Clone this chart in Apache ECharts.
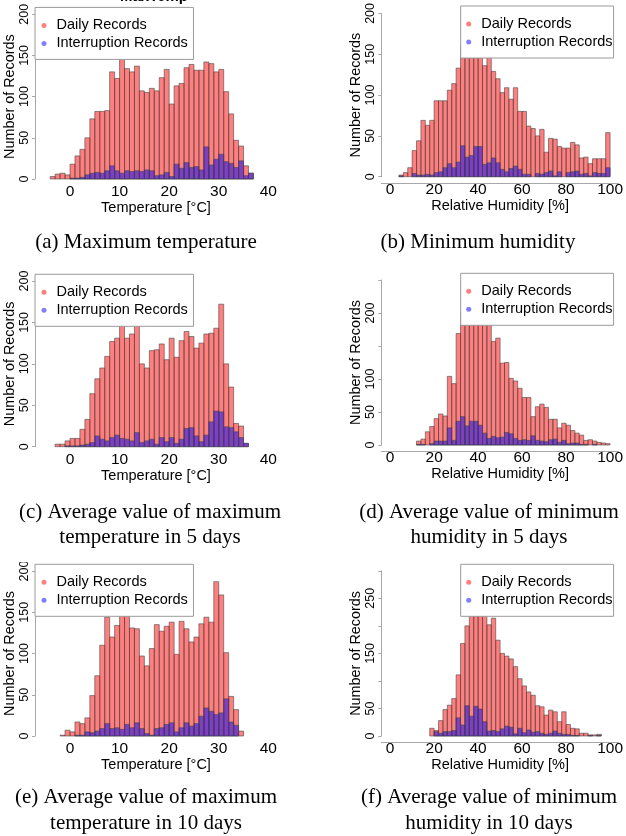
<!DOCTYPE html>
<html><head><meta charset="utf-8">
<script src="https://cdn.jsdelivr.net/npm/echarts@6/dist/echarts.min.js"></script>
<style>html,body{margin:0;padding:0;background:#fff}#c{width:626px;height:836px}</style>
</head><body><div id="c"></div>
<script>
// ---------- data ----------
const seriesNames = ['Daily Records', 'Interruption Records'];
const tempTicks = [0, 10, 20, 30, 40];
const humTicks = [0, 20, 40, 60, 80, 100];

// (a) Maximum temperature, 1 °C bins starting at -4
const aBinStart = -4, aBinWidth = 1;
const aDaily = [3,6,7,5,18,28,36,50,73,82,82,83,130,122,146,134,130,137,107,105,110,107,123,133,91,113,116,135,139,132,132,142,140,130,133,106,79,47,40,16,7];
const aIntr  = [0,0,0,0,1,1,2,5,7,8,7,10,16,10,7,10,9,10,9,11,10,4,5,8,3,18,13,20,14,15,11,39,17,24,30,21,19,14,22,4,7];

// (b) Minimum humidity, 2 % bins starting at 4
const bBinStart = 4, bBinWidth = 2;
const bDaily = [2,5,11,32,44,69,63,69,93,93,93,106,114,133,160,168,158,172,150,136,146,129,120,103,109,95,109,80,80,62,59,50,58,30,47,46,37,35,35,42,39,23,24,16,22,22,22,54];
const bIntr  = [1,0,0,4,2,2,3,2,5,6,11,16,11,18,38,24,26,37,37,15,17,23,17,9,6,10,13,9,3,3,0,4,3,5,7,1,6,0,5,6,7,3,4,1,5,4,4,11];

// (c) 5-day average of maximum temperature, 1 °C bins starting at -3
const cBinStart = -3, cBinWidth = 1;
const cDaily = [3,3,7,10,10,21,33,64,82,95,109,127,131,146,131,136,150,100,95,116,117,124,105,131,108,128,139,133,119,125,136,137,143,172,100,72,28,25,4];
const cIntr  = [0,0,1,1,1,2,3,5,13,9,7,11,14,10,9,7,17,5,7,9,3,11,6,11,4,9,22,23,13,6,14,30,43,42,24,23,18,11,4];

// (d) 5-day average of minimum humidity, 2 % bins starting at 12
const dBinStart = 12, dBinWidth = 2;
const dDaily = [6,9,20,28,40,47,44,104,93,169,200,215,225,230,220,205,185,157,162,124,125,101,97,86,72,72,43,58,62,57,39,39,26,33,30,22,18,15,7,8,6,4,3,2];
const dIntr  = [1,1,0,2,6,6,6,26,7,36,43,29,36,36,30,18,10,13,11,12,19,17,10,7,8,7,14,7,6,5,8,9,4,7,2,3,3,1,1,0,1,0,0,0];

// (e) 10-day average of maximum temperature, 1 °C bins starting at -2
const eBinStart = -2, eBinWidth = 1;
const eDaily = [1,7,5,17,15,22,49,73,110,144,120,134,148,146,131,130,97,85,106,135,127,133,138,99,139,130,114,120,136,144,138,187,171,101,48,32,6];
const eIntr  = [0,0,0,1,1,5,4,6,9,15,9,10,8,14,10,16,9,3,1,9,10,14,16,5,10,16,12,15,24,34,30,26,28,45,17,13,0];

// (f) 10-day average of minimum humidity, 2 % bins starting at 18
const fBinStart = 18, fBinWidth = 2;
const fDaily = [14,10,28,48,56,68,111,168,200,225,235,230,222,202,214,174,150,145,140,126,104,91,80,74,55,53,38,47,44,26,44,21,14,13,5,5,2,2,3];
const fIntr  = [0,8,5,8,8,10,33,20,55,36,54,49,26,9,10,8,13,18,16,4,14,6,11,7,8,5,3,5,9,5,3,3,1,1,0,0,1,0,1];

const captions = [
  ['(a) Maximum temperature'],
  ['(b) Minimum humidity'],
  ['(c) Average value of maximum', 'temperature in 5 days'],
  ['(d) Average value of minimum', 'humidity in 5 days'],
  ['(e) Average value of maximum', 'temperature in 10 days'],
  ['(f) Average value of minimum', 'humidity in 10 days']
];
const xNames = ['Temperature [°C]', 'Relative Humidity [%]'];
const yName = 'Number of Records';

// ---------- layout / style ----------
const SANS = 'Liberation Sans, Arial, sans-serif';
const SERIF = 'Liberation Serif, Times New Roman, serif';
const RED = 'rgba(255,0,0,0.5)', BLUE = 'rgba(0,0,255,0.5)';
const AXIS_GRAY = '#a8a8a8';

function toBins(start, width, counts) {
  return counts.map((v, i) => [start + i * width, start + (i + 1) * width, v]);
}

const panels = [
  { start:aBinStart, width:aBinWidth, daily:aDaily, intr:aIntr, kind:0,
    grid:{left:35, top:14.2, width:242, height:164.8}, xmin:-7.06, xmax:41.75, ymax:200, yLab:[0,50,100,150,200],
    legend:{left:35, top:7.4} },
  { start:bBinStart, width:bBinWidth, daily:bDaily, intr:bIntr, kind:1,
    grid:{left:381.3, top:12.8, width:241.9, height:163.9}, xmin:-4.02, xmax:104, ymax:200, yLab:[0,50,100,150,200],
    legend:{left:460.7, top:6} },
  { start:cBinStart, width:cBinWidth, daily:cDaily, intr:cIntr, kind:0,
    grid:{left:35, top:281, width:242, height:165.7}, xmin:-7.06, xmax:41.75, ymax:200, yLab:[0,50,100,150,200],
    legend:{left:35, top:274.3} },
  { start:dBinStart, width:dBinWidth, daily:dDaily, intr:dIntr, kind:1,
    grid:{left:381.3, top:280, width:241.9, height:165}, xmin:-4.02, xmax:104, ymax:250, yLab:[0,50,100,200],
    legend:{left:460.7, top:273.3} },
  { start:eBinStart, width:eBinWidth, daily:eDaily, intr:eIntr, kind:0,
    grid:{left:35, top:571, width:242, height:165}, xmin:-7.06, xmax:41.75, ymax:200, yLab:[0,50,100,150,200],
    legend:{left:35, top:564.3} },
  { start:fBinStart, width:fBinWidth, daily:fDaily, intr:fIntr, kind:1,
    grid:{left:381.3, top:570.8, width:241.9, height:165.2}, xmin:-4.02, xmax:104, ymax:300, yLab:[0,50,150,250],
    legend:{left:460.7, top:564.3} }
];

function renderBar(params, api) {
  const h = api.value(2);
  if (!h) return null;
  const p0 = api.coord([api.value(0), h]);
  const p1 = api.coord([api.value(1), 0]);
  return {
    type: 'rect',
    shape: { x: p0[0], y: p0[1], width: p1[0] - p0[0], height: p1[1] - p0[1] },
    style: { fill: api.visual('color'), stroke: 'rgba(70,70,70,0.75)', lineWidth: 0.8 }
  };
}

const option = {
  backgroundColor: '#fff',
  animation: false,
  grid: [], xAxis: [], yAxis: [], series: [], legend: [], graphic: []
};

panels.forEach((p, i) => {
  option.grid.push(Object.assign({ containLabel: false }, p.grid));
  option.xAxis.push({
    type: 'value', gridIndex: i, min: p.xmin, max: p.xmax,
    offset: 6.6,
    axisLine: { show: p.kind === 1, onZero: false, lineStyle: { color: AXIS_GRAY, width: 1 } },
    axisTick: { show: false },
    splitLine: { show: false },
    axisLabel: { customValues: p.kind === 0 ? tempTicks : humTicks, margin: -2, color: '#000',
      fontFamily: SANS, fontSize: 15.5, lineHeight: 16 },
    name: xNames[p.kind], nameLocation: 'middle', nameGap: 9,
    nameTextStyle: { fontFamily: SANS, fontSize: 14.5, color: '#000', lineHeight: 15 }
  });
  option.yAxis.push({
    type: 'value', gridIndex: i, min: 0, max: p.ymax, interval: 50,
    axisLine: { show: true, onZero: false, lineStyle: { color: AXIS_GRAY, width: 1 } },
    axisTick: { show: true, length: 3, lineStyle: { color: AXIS_GRAY } },
    splitLine: { show: false },
    axisLabel: { customValues: p.yLab, rotate: 90, margin: 4, color: '#000',
      fontFamily: SANS, fontSize: 12.5, lineHeight: 13 },
    name: yName, nameLocation: 'middle', nameRotate: 90, nameGap: 15,
    nameTextStyle: { fontFamily: SANS, fontSize: 14.4, color: '#000', lineHeight: 15 }
  });
  option.series.push({
    type: 'custom', name: seriesNames[0], xAxisIndex: i, yAxisIndex: i,
    itemStyle: { color: RED }, renderItem: renderBar,
    encode: { x: [0, 1], y: 2 }, data: toBins(p.start, p.width, p.daily), z: 2
  });
  option.series.push({
    type: 'custom', name: seriesNames[1], xAxisIndex: i, yAxisIndex: i,
    itemStyle: { color: BLUE }, renderItem: renderBar,
    encode: { x: [0, 1], y: 2 }, data: toBins(p.start, p.width, p.intr), z: 3
  });
  option.legend.push({
    left: p.legend.left, top: p.legend.top, orient: 'vertical',
    data: seriesNames, icon: 'circle', itemWidth: 15, itemHeight: 5, itemGap: 3,
    padding: p.kind === 0 ? [10.5, 5.6, 8.5, 6.5] : [10.5, 1, 8.5, 5.5],
    backgroundColor: '#fff', borderColor: '#9a9a9a', borderWidth: 1, borderRadius: 0,
    selectedMode: false, itemStyle: { borderWidth: 0 },
    textStyle: { fontFamily: SANS, fontSize: 14.5, color: '#000', lineHeight: 15 },
    z: 10
  });
});

// captions
const capPos = [
  { x: 146, y: [242] }, { x: 478, y: [242] },
  { x: 150, y: [512, 537] }, { x: 489, y: [512, 537] },
  { x: 146, y: [797, 823] }, { x: 489, y: [797, 823] }
];
captions.forEach((lines, i) => {
  lines.forEach((t, j) => {
    option.graphic.push({
      type: 'text', x: capPos[i].x, y: capPos[i].y[j], z: 20,
      style: { text: t, fill: '#000', font: '21px ' + SERIF, textAlign: 'center', textVerticalAlign: 'middle' }
    });
  });
});
// cut-off main title remnant at the very top of panel (a)
option.graphic.push({
  type: 'text', x: 154, y: 4, z: 20,
  style: { text: 'MaxTemp', fill: '#000', font: 'bold 15px ' + SANS, textAlign: 'center', textVerticalAlign: 'bottom' }
});
// the original panel (e) picture is cropped just above its top tick label
option.graphic.push({
  type: 'rect', z: 30, shape: { x: 12, y: 548, width: 22, height: 14 }, style: { fill: '#fff' }
});

const chart = echarts.init(document.getElementById('c'));
chart.setOption(option);
</script>
</body></html>
